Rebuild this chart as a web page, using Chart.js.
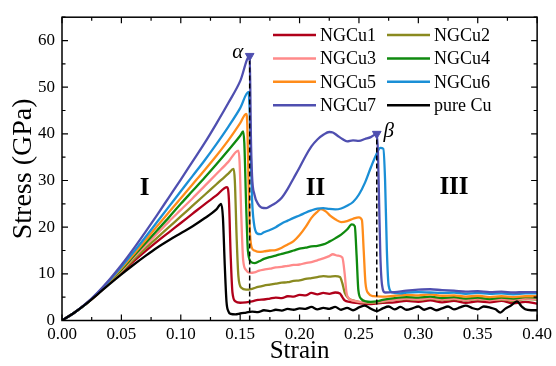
<!DOCTYPE html>
<html>
<head>
<meta charset="utf-8">
<script src="https://cdn.jsdelivr.net/npm/chart.js@4"></script>
<style>
  body { margin: 0; background: #fff; }
  #wrap { width: 556px; height: 366px; position: relative; }
</style>
</head>
<body>
<div id="wrap"><canvas id="chart"></canvas></div>
<script>
// stress-strain curves, [strain, stress GPa]
const pureCu = [[0,0],[0.01,1.6],[0.02,3.5],[0.03,5.6],[0.04,7.8],[0.05,9.9],[0.06,11.9],[0.07,13.8],[0.08,15.6],[0.09,17.2],[0.10,18.7],[0.11,20.2],[0.12,21.9],[0.13,23.8],[0.134,25.0],
  [0.1355,22],[0.137,12],[0.1385,4],[0.140,2.0],[0.142,1.4],[0.146,1.3],[0.15,1.5],[0.155,1.7],[0.16,1.9],[0.165,1.8],[0.17,2.2],[0.175,2.0],[0.18,2.3],[0.185,2.1],[0.19,2.5],[0.195,2.3],
  [0.2,2.6],[0.205,2.5],[0.21,2.9],[0.215,2.4],[0.22,2.7],[0.225,2.5],[0.23,2.9],[0.235,2.3],[0.24,2.7],[0.245,2.2],[0.25,2.8],[0.255,3.2],[0.26,2.5],[0.265,2.0],[0.27,2.6],[0.275,3.0],
  [0.28,2.4],[0.285,2.9],[0.29,2.3],[0.295,2.6],[0.3,3.0],[0.305,2.3],[0.31,2.7],[0.315,2.2],[0.32,2.6],[0.325,3.0],[0.33,2.4],[0.335,2.8],[0.34,3.2],[0.345,2.7],[0.35,2.4],[0.355,3.0],
  [0.36,2.8],[0.365,2.4],[0.369,1.7],[0.373,2.5],[0.378,3.2],[0.383,4.1],[0.387,3.0],[0.39,2.4],[0.395,2.2],[0.4,2.2]];
const ngcu1 = [[0,0],[0.01,1.6],[0.02,3.5],[0.03,5.7],[0.04,8.0],[0.05,10.3],[0.06,12.6],[0.07,14.8],[0.08,16.9],[0.09,18.9],[0.10,20.9],[0.11,22.9],[0.12,24.9],[0.13,26.8],[0.139,28.6],
  [0.1405,26],[0.142,14],[0.1435,6],[0.146,4.1],[0.15,3.8],[0.155,3.9],[0.16,4.1],[0.165,4.4],[0.17,4.5],[0.175,4.7],[0.18,4.9],[0.185,4.8],[0.19,5.2],[0.195,5.1],[0.2,5.5],[0.205,5.4],
  [0.21,5.9],[0.215,5.6],[0.22,5.9],[0.225,5.7],[0.23,6.0],[0.234,5.8],[0.236,5.0],[0.238,4.3],[0.242,4.0],[0.25,3.7],[0.26,3.5],[0.27,3.8],[0.28,3.9],[0.29,4.2],[0.3,4.0],[0.31,4.3],
  [0.32,3.9],[0.33,4.2],[0.34,3.8],[0.35,4.1],[0.36,3.9],[0.37,4.2],[0.38,3.7],[0.39,4.0],[0.4,3.6]];
const ngcu2 = [[0,0],[0.01,1.6],[0.02,3.5],[0.03,5.7],[0.04,8.1],[0.05,10.5],[0.06,13.0],[0.07,15.4],[0.08,17.7],[0.09,20.0],[0.10,22.3],[0.11,24.6],[0.12,26.9],[0.13,29.2],[0.14,31.5],[0.1445,32.5],
  [0.1455,30],[0.147,18],[0.1485,9.5],[0.151,7.0],[0.155,6.6],[0.16,6.8],[0.165,7.2],[0.17,7.5],[0.175,7.7],[0.18,7.9],[0.185,8.1],[0.19,8.2],[0.195,8.5],[0.2,8.6],[0.205,8.9],[0.21,9.1],
  [0.215,9.3],[0.22,9.5],[0.225,9.4],[0.23,9.5],[0.234,9.3],[0.236,8.0],[0.238,6.0],[0.241,4.8],[0.245,4.3],[0.25,4.0],[0.26,3.8],[0.27,4.0],[0.28,4.4],[0.29,4.6],[0.3,4.4],[0.31,4.7],
  [0.32,4.4],[0.33,4.6],[0.34,4.3],[0.35,4.6],[0.36,4.4],[0.37,4.5],[0.38,4.2],[0.39,4.6],[0.4,4.5]];
const ngcu3 = [[0,0],[0.01,1.6],[0.02,3.5],[0.03,5.7],[0.04,8.2],[0.05,10.7],[0.06,13.4],[0.07,16.0],[0.08,18.6],[0.09,21.2],[0.10,23.7],[0.11,26.2],[0.12,28.8],[0.13,31.4],[0.14,34.0],[0.1485,36.4],
  [0.1495,34],[0.151,22],[0.1525,13],[0.155,10.8],[0.158,10.2],[0.162,10.3],[0.166,10.7],[0.17,10.9],[0.175,11.1],[0.18,11.4],[0.185,11.5],[0.19,11.7],[0.195,11.9],[0.2,12.0],[0.205,12.3],
  [0.21,12.5],[0.215,12.9],[0.22,13.3],[0.225,13.8],[0.228,14.2],[0.232,13.9],[0.236,13.5],[0.238,10],[0.2395,6],[0.242,4.6],[0.246,4.2],[0.25,4.0],[0.26,3.9],[0.27,4.1],[0.28,4.4],
  [0.29,4.7],[0.3,4.5],[0.31,4.8],[0.32,4.5],[0.33,4.7],[0.34,4.4],[0.35,4.7],[0.36,4.3],[0.37,4.6],[0.38,4.4],[0.39,4.7],[0.4,4.6]];
const ngcu4 = [[0,0],[0.01,1.6],[0.02,3.5],[0.03,5.8],[0.04,8.3],[0.05,10.9],[0.06,13.7],[0.07,16.5],[0.08,19.3],[0.09,22.1],[0.10,25.0],[0.11,27.8],[0.12,30.6],[0.13,33.5],[0.14,36.5],[0.15,39.6],[0.1525,40.5],
  [0.1535,38],[0.155,25],[0.1565,15],[0.159,12.6],[0.162,12.3],[0.166,12.7],[0.17,13.2],[0.175,13.6],[0.18,13.9],[0.185,14.3],[0.19,14.6],[0.195,15.0],[0.2,15.4],[0.205,15.6],[0.21,15.9],
  [0.215,16.0],[0.22,16.3],[0.225,16.9],[0.23,17.6],[0.235,18.4],[0.24,19.5],[0.244,20.6],[0.2465,20.2],[0.248,14],[0.2495,6.5],[0.252,4.6],[0.256,4.1],[0.26,4.0],[0.265,4.1],[0.27,4.4],
  [0.28,4.8],[0.29,5.0],[0.3,4.9],[0.31,5.1],[0.32,4.8],[0.33,5.0],[0.34,4.7],[0.35,4.9],[0.36,4.6],[0.37,4.9],[0.38,4.7],[0.39,5.0],[0.4,4.9]];
const ngcu5 = [[0,0],[0.01,1.6],[0.02,3.5],[0.03,5.8],[0.04,8.4],[0.05,11.2],[0.06,14.1],[0.07,17.1],[0.08,20.2],[0.09,23.2],[0.10,26.2],[0.11,29.2],[0.12,32.2],[0.13,35.3],[0.14,38.6],[0.15,42.3],[0.155,44.3],
  [0.156,42],[0.157,30],[0.158,20],[0.1595,15.8],[0.162,15.0],[0.166,14.7],[0.17,14.8],[0.175,15.0],[0.18,15.1],[0.185,15.6],[0.19,16.3],[0.195,17.0],[0.2,18.3],[0.205,20.0],[0.21,22.0],
  [0.215,23.3],[0.218,23.9],[0.222,23.4],[0.226,22.4],[0.23,21.7],[0.235,21.1],[0.24,21.3],[0.245,21.8],[0.25,22.1],[0.2525,21.5],[0.254,15],[0.2555,8],[0.258,5.8],[0.262,5.2],[0.27,5.1],
  [0.28,5.3],[0.29,5.5],[0.3,5.4],[0.31,5.6],[0.32,5.3],[0.33,5.4],[0.34,5.1],[0.35,5.3],[0.36,5.0],[0.37,5.2],[0.38,5.0],[0.39,5.2],[0.4,5.2]];
const ngcu6 = [[0,0],[0.01,1.6],[0.02,3.5],[0.03,5.9],[0.04,8.6],[0.05,11.5],[0.06,14.6],[0.07,17.8],[0.08,21.1],[0.09,24.4],[0.10,27.7],[0.11,31.0],[0.12,34.3],[0.13,37.8],[0.14,41.5],[0.15,45.5],[0.157,49.0],
  [0.158,45],[0.159,35],[0.160,26],[0.1615,21],[0.164,18.7],[0.167,18.5],[0.17,18.9],[0.175,19.4],[0.18,20.0],[0.185,20.8],[0.19,21.4],[0.195,22.0],[0.2,22.5],[0.205,23.1],[0.21,23.6],
  [0.215,24.0],[0.22,24.1],[0.225,23.9],[0.23,23.8],[0.235,24.0],[0.24,24.6],[0.245,25.4],[0.25,27.0],[0.255,29.5],[0.26,32.8],[0.265,35.8],[0.268,37.0],[0.2705,36.8],[0.272,30],[0.2735,15],
  [0.275,7.5],[0.278,6.0],[0.285,5.8],[0.29,6.0],[0.3,6.1],[0.31,6.0],[0.32,5.9],[0.33,6.0],[0.34,5.7],[0.35,5.9],[0.36,5.7],[0.37,5.8],[0.38,5.6],[0.39,5.8],[0.4,5.8]];
const ngcu7 = [[0,0],[0.01,1.6],[0.02,3.6],[0.03,6.0],[0.04,8.8],[0.05,11.9],[0.06,15.3],[0.07,18.9],[0.08,22.6],[0.09,26.4],[0.10,30.2],[0.11,34.1],[0.12,38.0],[0.13,42.2],[0.14,46.6],[0.15,51.3],[0.158,56.7],
  [0.1585,50],[0.159,40],[0.160,31],[0.162,27],[0.165,25],[0.168,24.2],[0.172,24.1],[0.176,24.6],[0.18,25.2],[0.185,26.3],[0.19,28.2],[0.195,30.5],[0.2,32.8],[0.205,35.2],[0.21,37.3],
  [0.215,38.8],[0.22,39.8],[0.225,40.4],[0.228,40.3],[0.232,39.6],[0.236,38.9],[0.24,38.4],[0.245,38.6],[0.25,38.5],[0.255,38.9],[0.26,39.3],[0.265,40.0],[0.266,36],[0.267,25],[0.268,14],
  [0.2695,7.5],[0.272,6.0],[0.28,6.1],[0.29,6.4],[0.3,6.6],[0.31,6.7],[0.32,6.5],[0.33,6.4],[0.34,6.2],[0.35,6.3],[0.36,6.1],[0.37,6.2],[0.38,6.0],[0.39,6.1],[0.4,6.1]];

const seriesNames  = ['NGCu1', 'NGCu2', 'NGCu3', 'NGCu4', 'NGCu5', 'NGCu6', 'NGCu7', 'pure Cu'];
const seriesData   = [ngcu1, ngcu2, ngcu3, ngcu4, ngcu5, ngcu6, ngcu7, pureCu];
const seriesColors = ['#b0001a', '#8a8a20', '#ff8a8a', '#0f8a0f', '#ff8c1a', '#1a8fd6', '#4f4fb0', '#000000'];

// alpha / beta instability points
const criticalPoints = [[0.158, 56.7], [0.265, 40.0]];
const criticalLabels = ['α', 'β'];
const regionLabels = ['I', 'II', 'III'];
const regionAt = [[0.0696, 28.2], [0.2135, 28.2], [0.330, 28.4]];

const SERIF = "'Liberation Serif', 'Times New Roman', serif";
const toXY = arr => arr.map(p => ({ x: p[0], y: p[1] }));

// purple on top: Chart.js paints index 0 last
const curveSets = seriesData.map((d, i) => ({
  label: seriesNames[i],
  data: toXY(d),
  borderColor: seriesColors[i],
  borderWidth: 2.3,
  pointRadius: 0,
  cubicInterpolationMode: 'monotone',
  showLine: true,
})).reverse();

const dashSets = criticalPoints.map(p => ({
  label: 'dash',
  data: [{ x: p[0], y: 0 }, { x: p[0], y: p[1] }],
  borderColor: '#000',
  borderWidth: 1.5,
  borderDash: [5, 3],
  pointRadius: 0,
  showLine: true,
}));

const markerSet = {
  label: 'marker',
  data: toXY(criticalPoints),
  pointStyle: 'triangle',
  rotation: 180,
  pointRadius: 5,
  backgroundColor: seriesColors[6],
  borderColor: seriesColors[6],
  showLine: false,
};

// frame with inward major/minor ticks on all four sides
const framePlugin = {
  id: 'frame',
  afterDraw(chart) {
    const { ctx, chartArea: a, scales: { x, y } } = chart;
    ctx.save();
    ctx.strokeStyle = '#000';
    ctx.lineWidth = 1.5;
    ctx.strokeRect(a.left, a.top, a.right - a.left, a.bottom - a.top);
    ctx.lineWidth = 1.2;
    ctx.beginPath();
    for (let i = 0; i <= 16; i++) {
      const px = x.getPixelForValue(i * 0.025);
      const len = i % 2 ? 3.5 : 6;
      ctx.moveTo(px, a.bottom); ctx.lineTo(px, a.bottom - len);
      ctx.moveTo(px, a.top); ctx.lineTo(px, a.top + len);
    }
    for (let i = 0; i <= 13; i++) {
      const py = y.getPixelForValue(i * 5);
      const len = i % 2 ? 3.5 : 6;
      ctx.moveTo(a.left, py); ctx.lineTo(a.left + len, py);
      ctx.moveTo(a.right, py); ctx.lineTo(a.right - len, py);
    }
    ctx.stroke();
    ctx.restore();
  }
};

// labels and the two-column legend
const notePlugin = {
  id: 'notes',
  afterDraw(chart) {
    const { ctx, scales: { x, y } } = chart;
    ctx.save();
    ctx.fillStyle = '#000';
    ctx.textAlign = 'center';
    ctx.textBaseline = 'middle';
    ctx.font = `bold 25px ${SERIF}`;
    regionLabels.forEach((t, i) => {
      ctx.fillText(t, x.getPixelForValue(regionAt[i][0]), y.getPixelForValue(regionAt[i][1]));
    });
    ctx.font = `italic 21px ${SERIF}`;
    ctx.fillText(criticalLabels[0], x.getPixelForValue(criticalPoints[0][0]) - 12, y.getPixelForValue(criticalPoints[0][1]) - 3);
    ctx.fillText(criticalLabels[1], x.getPixelForValue(criticalPoints[1][0]) + 12, y.getPixelForValue(criticalPoints[1][1]) - 2);

    ctx.font = `18px ${SERIF}`;
    ctx.textAlign = 'left';
    seriesNames.forEach((name, i) => {
      const col = i % 2, row = Math.floor(i / 2);
      const lx = 273 + col * 114, ly = 35 + row * 23.4;
      ctx.strokeStyle = seriesColors[i];
      ctx.lineWidth = 2.5;
      ctx.beginPath();
      ctx.moveTo(lx, ly); ctx.lineTo(lx + 43, ly);
      ctx.stroke();
      ctx.fillText(name, lx + 47, ly + 1);
    });
    ctx.restore();
  }
};

new Chart(document.getElementById('chart'), {
  type: 'scatter',
  data: { datasets: [markerSet, ...dashSets, ...curveSets] },
  options: {
    responsive: true,
    maintainAspectRatio: false,
    animation: false,
    layout: { padding: { top: 12, right: 18, left: 0, bottom: 0 } },
    plugins: { legend: { display: false }, tooltip: { enabled: false } },
    scales: {
      x: {
        type: 'linear', min: 0, max: 0.4,
        grid: { display: false, drawTicks: false },
        border: { display: false },
        ticks: { stepSize: 0.05, padding: 4, color: '#000', font: { family: SERIF, size: 17 },
                 callback: v => v.toFixed(2) },
        title: { display: true, text: 'Strain', color: '#000', padding: 0,
                 font: { family: SERIF, size: 25 } },
        afterFit: s => { s.height = 45.5; },
      },
      y: {
        type: 'linear', min: 0, max: 65,
        grid: { display: false, drawTicks: false },
        border: { display: false },
        ticks: { stepSize: 10, includeBounds: false, padding: 7, color: '#000',
                 font: { family: SERIF, size: 17 } },
        title: { display: true, text: 'Stress (GPa)', color: '#000', padding: { top: 7, bottom: 7 },
                 font: { family: SERIF, size: 28 } },
        afterFit: s => { s.width = 62; },
      },
    },
  },
  plugins: [framePlugin, notePlugin],
});
</script>
</body>
</html>
